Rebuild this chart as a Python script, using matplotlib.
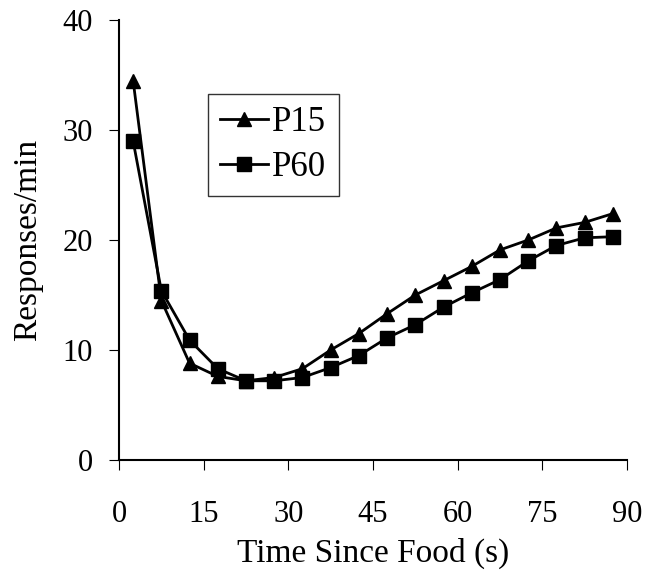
import matplotlib
matplotlib.use("Agg")
import matplotlib.pyplot as plt

time_s = [2.5, 7.5, 12.5, 17.5, 22.5, 27.5, 32.5, 37.5, 42.5, 47.5, 52.5, 57.5,
          62.5, 67.5, 72.5, 77.5, 82.5, 87.5]
p15 = [34.5, 14.5, 8.8, 7.6, 7.2, 7.5, 8.3, 10.0, 11.5, 13.3, 15.0, 16.3,
       17.6, 19.1, 20.0, 21.1, 21.6, 22.4]
p60 = [29.0, 15.4, 10.9, 8.3, 7.2, 7.2, 7.5, 8.4, 9.5, 11.1, 12.3, 13.9,
       15.2, 16.4, 18.1, 19.5, 20.2, 20.3]
x_ticks = [0, 15, 30, 45, 60, 75, 90]
y_ticks = [0, 10, 20, 30, 40]

plt.rcParams['font.family'] = ['Liberation Serif', 'DejaVu Serif']

fig = plt.figure(figsize=(6.55, 5.79), dpi=100)
ax = fig.add_axes([119/655, 1-460/579, (627-119)/655, (460-20)/579])

ax.plot(time_s, p15, color='black', lw=2, marker='^', markersize=10, label='P15', clip_on=False)
ax.plot(time_s, p60, color='black', lw=2, marker='s', markersize=9.5, label='P60', clip_on=False)

ax.set_xlim(0, 90)
ax.set_ylim(0, 40)
ax.set_xticks(x_ticks)
ax.set_yticks(y_ticks)
for s in ['top', 'right']:
    ax.spines[s].set_visible(False)
ax.spines['left'].set_linewidth(1.5)
ax.spines['bottom'].set_linewidth(1.5)
ax.tick_params(axis='both', direction='out', length=7, width=0.8, labelsize=22, colors='black')
ax.tick_params(axis='x', pad=22)
ax.tick_params(axis='y', pad=12)

ax.set_xlabel('Time Since Food (s)', fontsize=24, labelpad=6)
ax.set_ylabel('Responses/min', fontsize=24, labelpad=14)

leg = fig.legend(loc='upper left', bbox_to_anchor=(208/655, 1-94/579), borderaxespad=0,
                 fontsize=25, frameon=True, fancybox=False, handlelength=1.38,
                 handletextpad=0.12, borderpad=0.35, labelspacing=0.35)
leg.get_frame().set_edgecolor('black')
leg.get_frame().set_linewidth(1.0)

fig.savefig('out.png', dpi=100)
